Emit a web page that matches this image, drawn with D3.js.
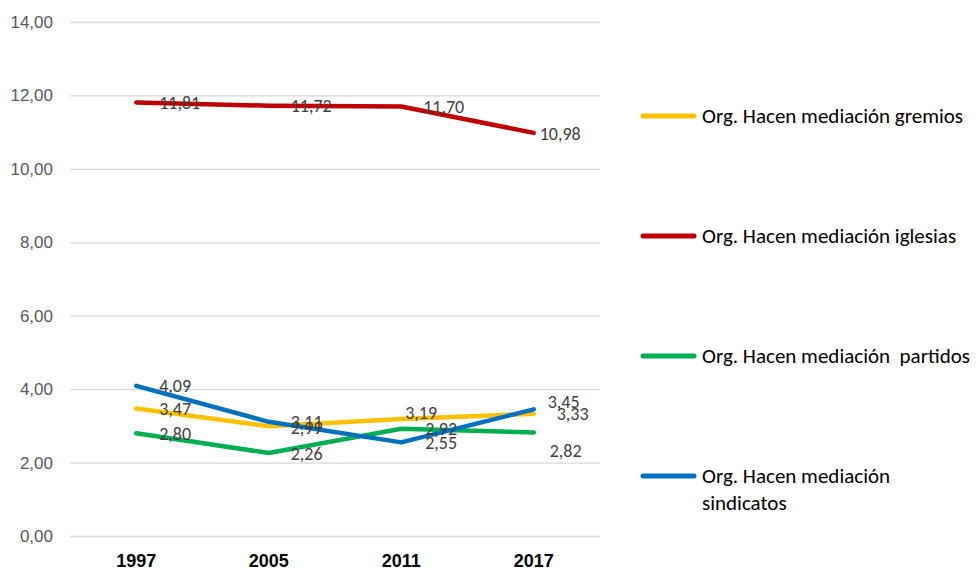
<!DOCTYPE html>
<html>
<head>
<meta charset="utf-8">
<script src="https://cdn.jsdelivr.net/npm/d3@7"></script>
<style>
  body { margin: 0; background: #fff; }
  svg { display: block; font-family: Carlito, Calibri, "Liberation Sans", sans-serif; }
</style>
</head>
<body>
<svg id="chart" width="976" height="571"></svg>
<script>
// categories and series values
var years = ["1997", "2005", "2011", "2017"];
var gremios = [3.47, 2.99, 3.19, 3.33];
var iglesias = [11.81, 11.72, 11.70, 10.98];
var partidos = [2.80, 2.26, 2.92, 2.82];
var sindicatos = [4.09, 3.11, 2.55, 3.45];
var yTicks = [0, 2, 4, 6, 8, 10, 12, 14];

var seriesNames = [
  "Org. Hacen mediación gremios",
  "Org. Hacen mediación iglesias",
  "Org. Hacen mediación  partidos",
  "Org. Hacen mediación\nsindicatos"
];
var seriesColors = ["#FFC000", "#C00000", "#00B050", "#0070C0"];
var seriesValues = [gremios, iglesias, partidos, sindicatos];

// hand placed label nudges (dx, dy from the point), like the original
var labelNudge = [
  [[23, 0], [22, 1], [4, -6], [23, 0]],
  [[23, 0], [22, 0], [22, 0], [6, 1]],
  [[23, 0], [22, 1], [24, 0], [16, 18]],
  [[23, 0], [22, 0], [24, 0], [14, -8]]
];

var svg = d3.select('#chart');
var fmt = function (d) { return d.toFixed(2).replace('.', ','); };

var x = d3.scaleBand().domain(years).range([70, 600]).padding(0);
var cx = function (d) { return x(d) + x.bandwidth() / 2; };
var y = d3.scaleLinear().domain([0, 14]).range([536, 22]);

// Y axis with gridlines
var yAxis = svg.append('g')
    .attr('transform', 'translate(70,0)')
    .call(d3.axisLeft(y).tickValues(yTicks).tickSize(-530).tickPadding(17).tickFormat(fmt));
yAxis.select('.domain').remove();
yAxis.selectAll('line').attr('stroke', '#d9d9d9').attr('stroke-width', 1.3);
yAxis.selectAll('text')
    .attr('fill', '#595959')
    .style('font-size', '17px');

// X axis labels
var xAxis = svg.append('g')
    .attr('transform', 'translate(0,536)')
    .call(d3.axisBottom(x).tickSize(0).tickPadding(18));
xAxis.select('.domain').remove();
xAxis.selectAll('text')
    .attr('fill', '#000')
    .style('font-size', '18px')
    .style('font-weight', 'bold');

// Lines
var line = d3.line()
    .x(function (d) { return cx(d.year); })
    .y(function (d) { return y(d.value); });

var series = seriesValues.map(function (vals, i) {
  return {
    name: seriesNames[i],
    color: seriesColors[i],
    points: vals.map(function (v, j) { return { year: years[j], value: v, nudge: labelNudge[i][j] }; })
  };
});

svg.append('g').selectAll('path')
    .data(series)
    .enter()
    .append('path')
    .attr('d', function (d) { return line(d.points); })
    .attr('fill', 'none')
    .attr('stroke', function (d) { return d.color; })
    .attr('stroke-width', 4.5)
    .attr('stroke-linejoin', 'round')
    .attr('stroke-linecap', 'round');

// Data labels
var labels = svg.append('g');
series.forEach(function (s) {
  labels.selectAll(null)
      .data(s.points)
      .enter()
      .append('text')
      .attr('x', function (d) { return cx(d.year) + d.nudge[0]; })
      .attr('y', function (d) { return y(d.value) + d.nudge[1]; })
      .attr('dy', '0.35em')
      .attr('fill', '#404040')
      .style('font-size', '18px')
      .text(function (d) { return fmt(d.value); });
});

// Legend
var legendY = d3.scalePoint().domain(seriesNames).range([116, 476]);
var legend = svg.append('g').selectAll('g')
    .data(series)
    .enter()
    .append('g')
    .attr('transform', function (d) { return 'translate(641,' + legendY(d.name) + ')'; });
legend.append('line')
    .attr('x1', 2).attr('x2', 53)
    .attr('stroke', function (d) { return d.color; })
    .attr('stroke-width', 5)
    .attr('stroke-linecap', 'round');
legend.append('text')
    .attr('x', 61)
    .attr('fill', '#000')
    .style('font-size', '21px')
    .style('white-space', 'pre')
    .selectAll('tspan')
    .data(function (d) { return d.name.split('\n'); })
    .enter()
    .append('tspan')
    .attr('x', 61)
    .attr('dy', function (d, i) { return i === 0 ? '0.35em' : '1.25em'; })
    .text(function (d) { return d; });
</script>
</body>
</html>
